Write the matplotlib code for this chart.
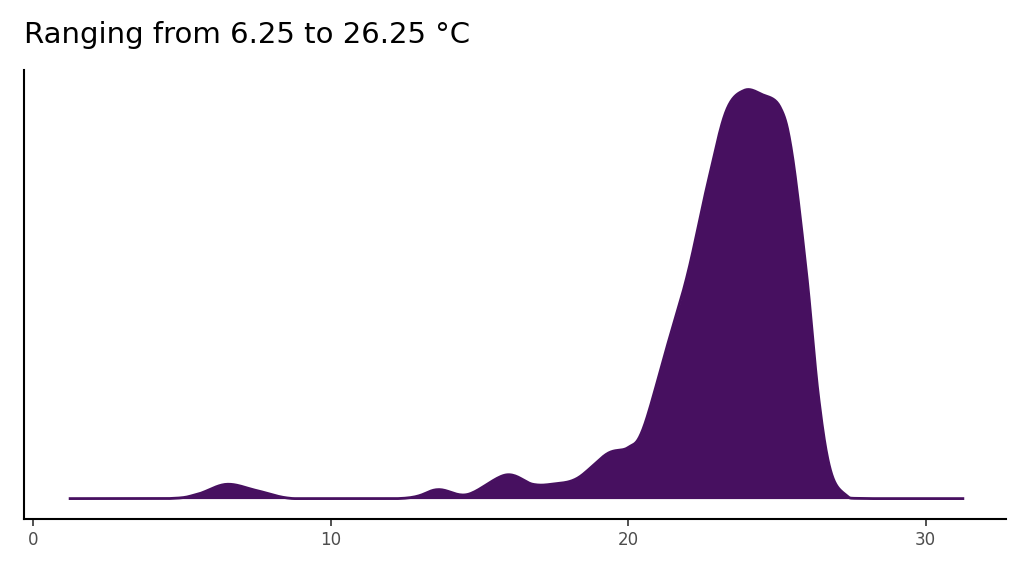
import numpy as np
import matplotlib.pyplot as plt

# density outline (relative height, peak = 1)
temp = [1.25, 4.5, 5.5, 6.5, 7.5, 8.5, 9.5, 12.5, 13.6, 14.6, 15.9, 16.8, 17.5,
        18.3, 19.3, 20.0, 20.5, 21.3, 22.0, 22.7, 23.3, 23.9, 24.5, 25.1, 25.5,
        26.0, 26.4, 26.8, 27.3, 28.0, 31.25]
dens = [0, 0, 0.01, 0.035, 0.02, 0.002, 0, 0.001, 0.022, 0.01, 0.058, 0.035, 0.036,
        0.05, 0.11, 0.125, 0.17, 0.37, 0.55, 0.78, 0.95, 1.0, 0.99, 0.96, 0.85,
        0.55, 0.25, 0.07, 0.01, 0, 0]
xticks = [0, 10, 20, 30]
title = "Ranging from 6.25 to 26.25 °C"


def catmull(xs, ys, n=20):
    # smooth the read outline for drawing
    x = np.array(xs, float)
    y = np.array(ys, float)
    px = np.concatenate([[x[0]], x, [x[-1]]])
    py = np.concatenate([[y[0]], y, [y[-1]]])
    ox, oy = [], []
    t = np.linspace(0, 1, n, endpoint=False)
    for i in range(1, len(px) - 2):
        for p, o in ((px, ox), (py, oy)):
            p0, p1, p2, p3 = p[i - 1], p[i], p[i + 1], p[i + 2]
            o.extend(0.5 * (2 * p1 + (-p0 + p2) * t + (2 * p0 - 5 * p1 + 4 * p2 - p3) * t ** 2
                            + (-p0 + 3 * p1 - 3 * p2 + p3) * t ** 3))
    ox.append(x[-1])
    oy.append(y[-1])
    return np.array(ox), np.clip(np.array(oy), 0, None)


sx, sy = catmull(temp, dens)

fig = plt.figure(figsize=(10.24, 5.76), dpi=100)
ax = fig.add_axes([24 / 1024, 57 / 576, 982 / 1024, 449 / 576])
ax.fill_between(sx, 0, sy, color="#471060", linewidth=0)
ax.plot(sx, sy, color="#471060", lw=2)

ax.set_xlim(-0.3, 32.7)
ax.set_ylim(-0.05, 1.05)
ax.set_xticks(xticks)
ax.set_xticklabels([str(v) for v in xticks], fontsize=12, color="#4d4d4d")
ax.set_yticks([])
for s in ["top", "right"]:
    ax.spines[s].set_visible(False)
for s in ["left", "bottom"]:
    ax.spines[s].set_linewidth(1.5)
ax.tick_params(axis="x", length=5, width=1.2, color="#333333")

fig.text(24 / 1024, 1 - 35 / 576, title, fontsize=21, va="center", ha="left")

fig.savefig("out.png")
